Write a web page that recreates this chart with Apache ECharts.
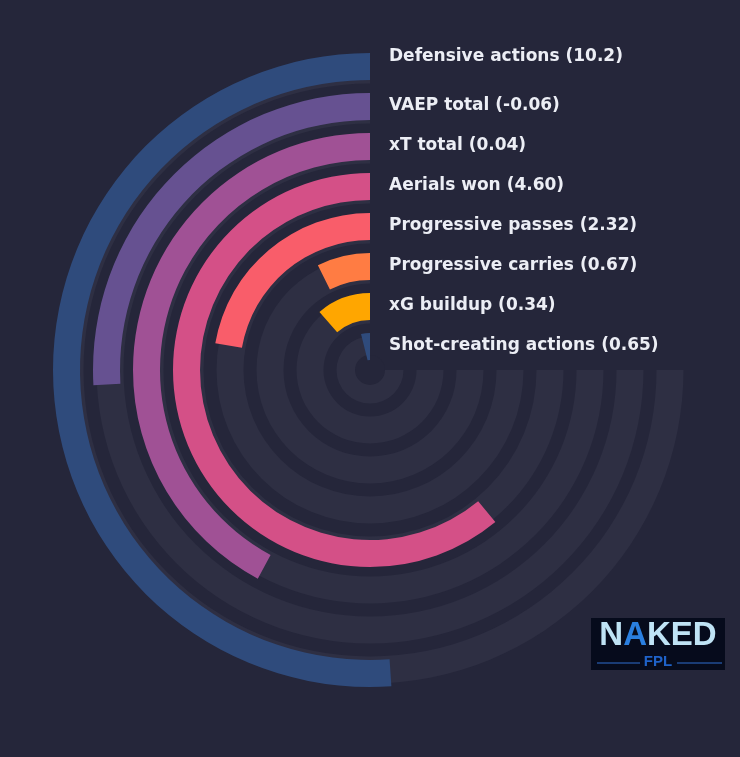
<!DOCTYPE html>
<html>
<head>
<meta charset="utf-8">
<script src="https://cdn.jsdelivr.net/npm/echarts@6/dist/echarts.min.js"></script>
<style>
html,body{margin:0;padding:0;background:#25263a;}
#chart{width:740px;height:757px;}
</style>
</head>
<body>
<div id="chart"></div>
<script>
// ---- data (outer ring first, as listed top-down in the labels) ----
const metrics = ['Defensive actions', 'VAEP total', 'xT total', 'Aerials won', 'Progressive passes', 'Progressive carries', 'xG buildup', 'Shot-creating actions'];
const rawValues = ['10.2', '-0.06', '0.04', '4.60', '2.32', '0.67', '0.34', '0.65'];
const percentiles = [68.1, 34.5, 56.2, 81.3, 29.7, 9.8, 15.2, 5.2];
const trackMax = 100;

// ---- style ----
const palette = ['#2f4b7c', '#665191', '#a05195', '#d45087', '#f95d6a', '#ff7c43', '#ffa600'];
const bg = '#25263a';
const trackColor = '#2e2f43';
const cx = 370, cy = 370;

// ECharts radius category axis runs inner -> outer, so reverse
const cats = metrics.slice().reverse();
const barData = percentiles.map((v, i) => ({
  value: v,
  itemStyle: { color: palette[i % palette.length] }
})).reverse();
const trackData = metrics.map(() => trackMax);

const angleAxisBase = {
  type: 'value', min: 0, max: trackMax / 0.75, startAngle: 90, clockwise: false,
  axisLine: { show: false }, axisTick: { show: false }, axisLabel: { show: false }, splitLine: { show: false }
};
const radiusAxisBase = {
  type: 'category', data: cats,
  axisLine: { show: false }, axisTick: { show: false }, axisLabel: { show: false }, splitLine: { show: false }
};

// label texts
const labelGraphics = metrics.map((m, i) => {
  const rCenter = 303.5 - 40 * i;
  const extra = i === 0 ? -9 : 0;
  return {
    type: 'text', z: 50,
    style: {
      text: m + ' (' + rawValues[i] + ')',
      x: 389, y: cy - rCenter - 1 + extra,
      fill: '#eceef5',
      font: 'bold 17px "DejaVu Sans"',
      align: 'left', verticalAlign: 'middle'
    }
  };
});

const chart = echarts.init(document.getElementById('chart'), null, { renderer: 'canvas' });
chart.setOption({
  backgroundColor: bg,
  animation: false,
  polar: [
    { center: [cx, cy], radius: [0, 320] },
    { center: [cx, cy], radius: [3.5, 323.5] }
  ],
  angleAxis: [
    Object.assign({ polarIndex: 0 }, angleAxisBase),
    Object.assign({ polarIndex: 1 }, angleAxisBase)
  ],
  radiusAxis: [
    Object.assign({ polarIndex: 0 }, radiusAxisBase),
    Object.assign({ polarIndex: 1 }, radiusAxisBase)
  ],
  series: [
    {
      type: 'bar', coordinateSystem: 'polar', polarIndex: 0, z: 1,
      data: trackData, barWidth: 27, itemStyle: { color: trackColor }, silent: true
    },
    {
      type: 'bar', coordinateSystem: 'polar', polarIndex: 1, z: 5,
      data: barData, barWidth: 27, silent: true
    }
  ],
  graphic: [
    { type: 'circle', z: 2, shape: { cx: cx, cy: cy, r: 15 }, style: { fill: bg } },
    ...labelGraphics,
    // logo
    { type: 'rect', z: 50, shape: { x: 591, y: 618, width: 134, height: 52 }, style: { fill: '#060b1c' } },
    { type: 'text', z: 51, style: {
        text: '{a|N}{b|A}{a|KED}', x: 658, y: 636, align: 'center', verticalAlign: 'middle',
        rich: {
          a: { fill: '#bfe3f5', font: 'bold 33px "Liberation Sans"' },
          b: { fill: '#2a7fe0', font: 'bold 33px "Liberation Sans"' }
        }
      } },
    { type: 'text', z: 51, style: { text: 'FPL', x: 658, y: 662, fill: '#1f62c8', font: 'bold 15px "Liberation Sans"', align: 'center', verticalAlign: 'middle' } },
    { type: 'line', z: 51, shape: { x1: 597, y1: 663, x2: 640, y2: 663 }, style: { stroke: '#2f6fcf', lineWidth: 1 } },
    { type: 'line', z: 51, shape: { x1: 677, y1: 663, x2: 722, y2: 663 }, style: { stroke: '#2f6fcf', lineWidth: 1 } }
  ]
});
</script>
</body>
</html>
